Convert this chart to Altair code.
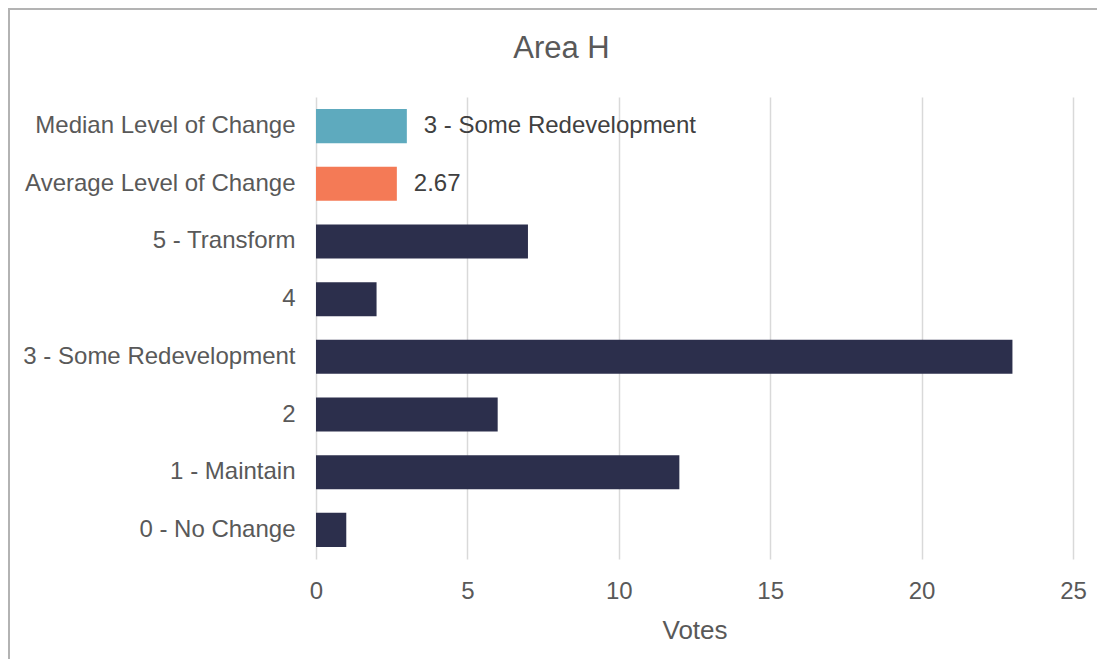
import altair as alt
import pandas as pd

categories = ["Median Level of Change", "Average Level of Change", "5 - Transform", "4",
              "3 - Some Redevelopment", "2", "1 - Maintain", "0 - No Change"]
values = [3, 2.67, 7, 2, 23, 6, 12, 1]
colors = ["#5eaabe", "#f47a56", "#2c2f4c", "#2c2f4c", "#2c2f4c", "#2c2f4c", "#2c2f4c", "#2c2f4c"]
value_labels = ["3 - Some Redevelopment", "2.67", "", "", "", "", "", ""]
x_ticks = [0, 5, 10, 15, 20, 25]

df = pd.DataFrame({"category": categories, "votes": values, "color": colors, "label": value_labels})

FONT = "Liberation Sans"

y_enc = alt.Y("category:N", sort=categories,
              scale=alt.Scale(paddingInner=0.41, paddingOuter=0.21),
              axis=alt.Axis(title=None, labelFont=FONT, labelFontSize=24, labelColor="#595959",
                            labelPadding=21, ticks=False, tickSize=0, domain=False, grid=False,
                            labelLimit=400))
x_enc = alt.X("votes:Q", scale=alt.Scale(domain=[0, 25], nice=False),
              axis=alt.Axis(title="Votes", values=x_ticks, labelFont=FONT, labelFontSize=24,
                            labelColor="#595959", ticks=False, tickSize=0, labelPadding=20,
                            labelFlush=False,
                            domain=False, grid=True, gridColor="#d9d9d9", gridWidth=1.5,
                            titleFont=FONT, titleFontSize=26, titleColor="#595959",
                            titleFontWeight="normal", titlePadding=14))

bars = alt.Chart(df).mark_bar().encode(
    x=x_enc, y=y_enc, color=alt.Color("color:N", scale=None)
)

texts = alt.Chart(df).mark_text(align="left", baseline="middle", dx=17, font=FONT,
                                fontSize=24, color="#404040").encode(
    x="votes:Q", y=alt.Y("category:N", sort=categories), text="label:N"
)

border = alt.Chart(pd.DataFrame({"a": [0]})).mark_rect(
    filled=False, stroke="#b3b3b3", strokeWidth=2
).encode(
    x=alt.value(-307), x2=alt.value(820), y=alt.value(-88), y2=alt.value(600)
)

chart = alt.layer(border, bars, texts).properties(
    width=757, height=462,
    title=alt.TitleParams("Area H", font=FONT, fontSize=31, color="#595959",
                          fontWeight="normal", anchor="middle", dx=-133, offset=-81,
                          baseline="alphabetic"),
    autosize=alt.AutoSizeParams(type="none"),
    padding={"left": 308, "top": 89, "right": 24, "bottom": 100},
).configure_view(stroke=None)

chart.save("out.html", embed_options={"renderer": "svg", "actions": False})
